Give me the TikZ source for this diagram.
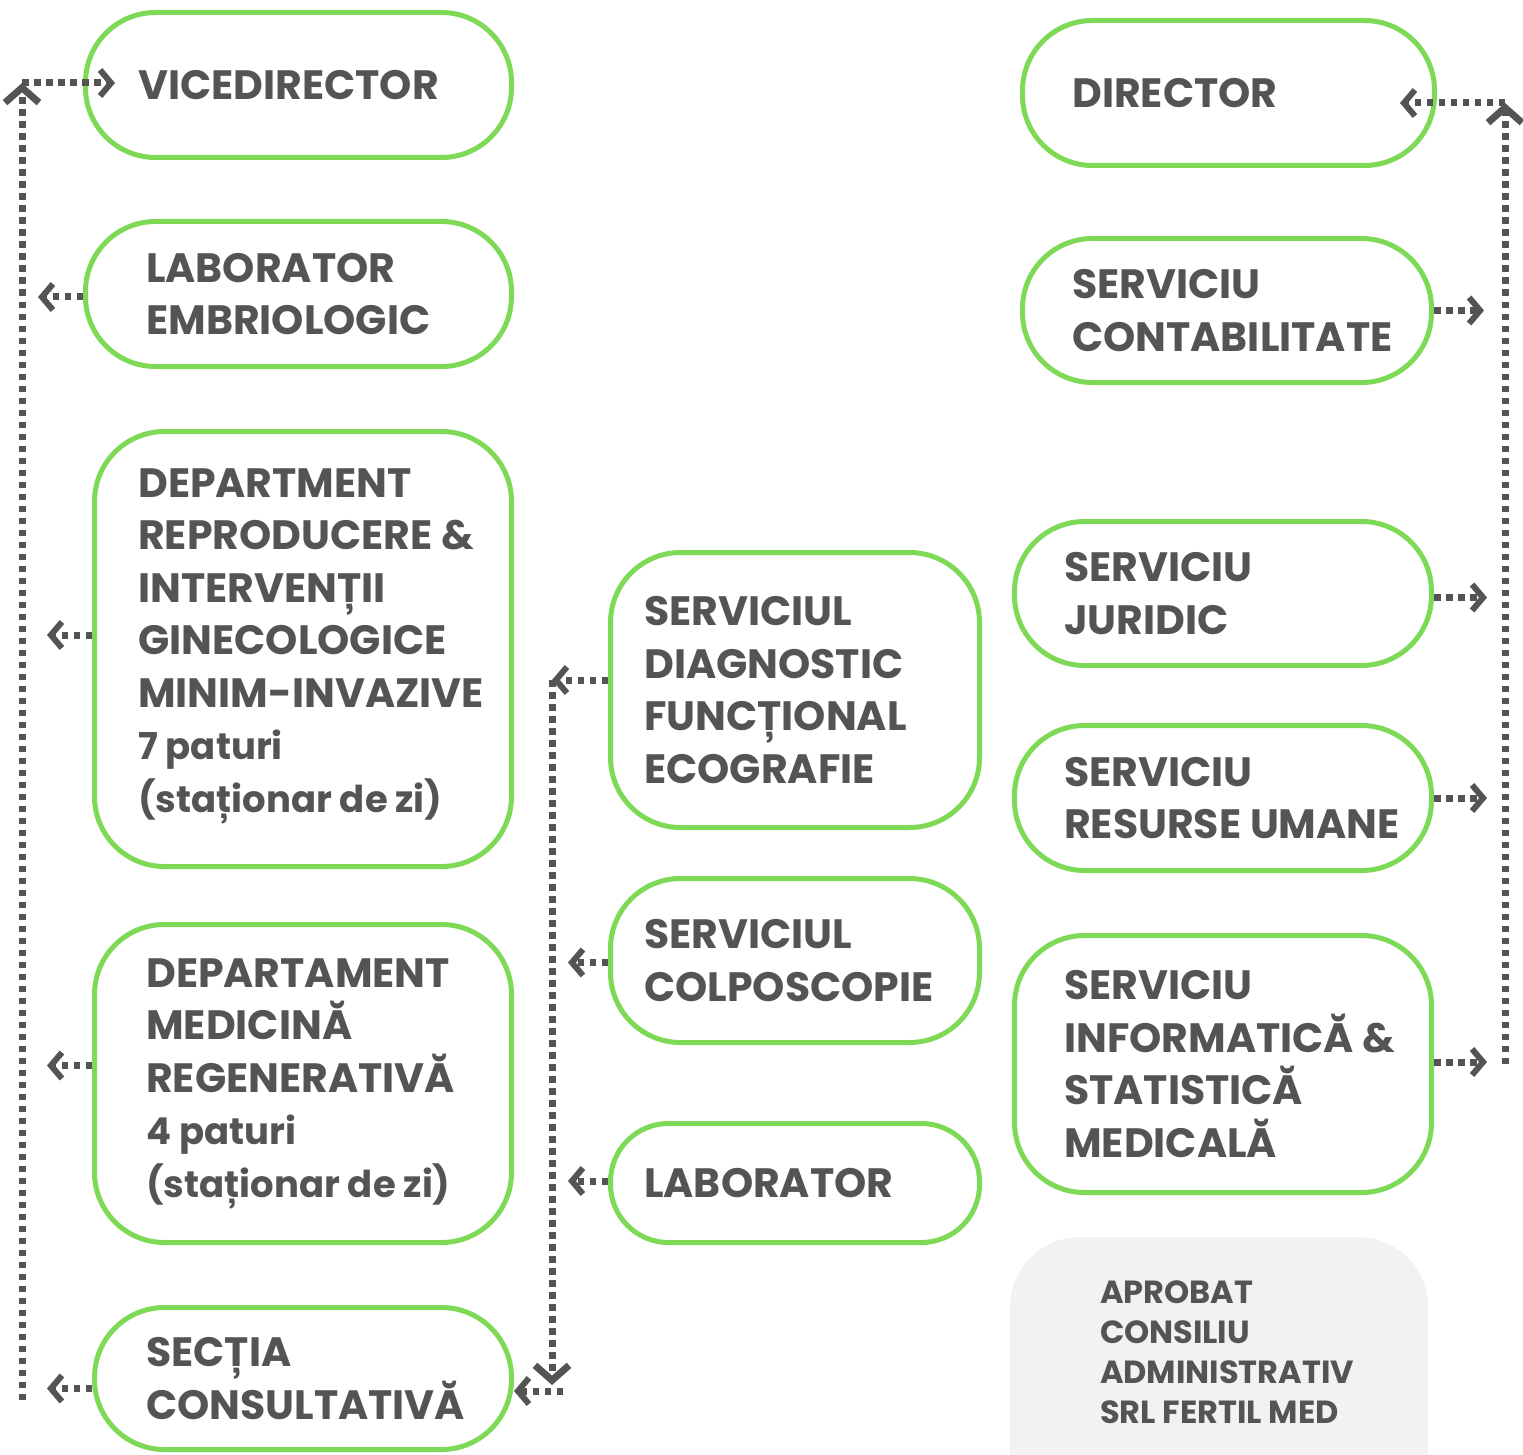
\documentclass[tikz,border=0pt]{standalone}
\usepackage{fontspec}
\setmainfont{Poppins}
\usetikzlibrary{positioning,arrows.meta}
\definecolor{leaf}{HTML}{7ED957}
\definecolor{ink}{HTML}{545454}
\definecolor{paper}{HTML}{F2F2F2}
\newcommand\beds{\fontsize{37}{52.5}\selectfont}
\tikzset{
  unit/.style={draw=leaf, line width=5pt, rounded corners=70pt, inner sep=0pt},
  txt/.style={text=ink, font=\fontsize{41}{52.5}\selectfont\bfseries, align=left, inner sep=0pt},
  note/.style={text=ink, font=\fontsize{32}{40}\selectfont\bfseries, align=left, inner sep=0pt},
  link/.style={draw=ink, line width=7pt, dash pattern=on 6.5pt off 5.5pt,
    -{Straight Barb[length=11pt,width=26pt,line width=6pt]}},
  spine/.style={draw=ink, line width=7pt, dash pattern=on 6.5pt off 5.5pt,
    -{Straight Barb[length=15pt,width=34pt,line width=7pt]}}
}

\begin{document}
\begin{tikzpicture}[x=1pt,y=-1pt]
\useasboundingbox (0,0) rectangle (1523,1455);
% left column
\node[unit, minimum width=426pt, minimum height=145pt] (vice) at (298.5,85) {};
\node[txt, right=55pt of vice.west] (viceT) {VICEDIRECTOR};
\node[unit, minimum width=426pt, minimum height=145pt] (emb) at (298.5,294) {};
\node[txt, right=63pt of emb.west] (embT) {LABORATOR\\EMBRIOLOGIC};
\node[unit, minimum width=417pt, minimum height=435pt] (repro) at (303,649) {};
\node[txt, right=46pt of repro.west, yshift=3pt] (reproT) {DEPARTMENT\\REPRODUCERE \&\\INTERVENȚII\\GINECOLOGICE\\MINIM-INVAZIVE\\{\beds 7 paturi}\\{\beds (staționar de zi)}};
\node[unit, minimum width=417pt, minimum height=318pt] (regen) at (303,1083.5) {};
\node[txt, right=54pt of regen.west] (regenT) {DEPARTAMENT\\MEDICINĂ\\REGENERATIVĂ\\{\beds 4 paturi}\\{\beds (staționar de zi)}};
\node[unit, minimum width=417pt, minimum height=142pt] (consult) at (303,1378.5) {};
\node[txt, right=54pt of consult.west] (consultT) {SECȚIA\\CONSULTATIVĂ};
% middle column
\node[unit, minimum width=369pt, minimum height=275pt] (diag) at (795,690) {};
\node[txt, right=36pt of diag.west] (diagT) {SERVICIUL\\DIAGNOSTIC\\FUNCȚIONAL\\ECOGRAFIE};
\node[unit, minimum width=369pt, minimum height=164pt] (colpo) at (795,960.5) {};
\node[txt, right=36pt of colpo.west] (colpoT) {SERVICIUL\\COLPOSCOPIE};
\node[unit, rounded corners=58pt, minimum width=369pt, minimum height=119pt] (lab) at (795,1183) {};
\node[txt, right=36pt of lab.west] (labT) {LABORATOR};
% right column
\node[unit, minimum width=412pt, minimum height=145pt] (dir) at (1228.5,93) {};
\node[txt, right=52pt of dir.west] (dirT) {DIRECTOR};
\node[unit, minimum width=409pt, minimum height=144pt] (contab) at (1227,310.5) {};
\node[txt, right=52pt of contab.west] (contabT) {SERVICIU\\CONTABILITATE};
\node[unit, minimum width=417pt, minimum height=144pt] (jur) at (1223,593.5) {};
\node[txt, right=52pt of jur.west] (jurT) {SERVICIU\\JURIDIC};
\node[unit, minimum width=417pt, minimum height=145pt] (hr) at (1223,798) {};
\node[txt, right=52pt of hr.west] (hrT) {SERVICIU\\RESURSE UMANE};
\node[unit, minimum width=417pt, minimum height=257pt] (info) at (1223,1064) {};
\node[txt, right=52pt of info.west] (infoT) {SERVICIU\\INFORMATICĂ \&\\STATISTICĂ\\MEDICALĂ};
\node[fill=paper, rounded corners=70pt, minimum width=418pt, minimum height=290pt, inner sep=0pt] (aprobat) at (1219,1382) {};
\node[note, below right=44pt and 90pt of aprobat.north west] (aprobatT) {APROBAT\\CONSILIU\\ADMINISTRATIV\\SRL FERTIL MED};
% dotted links
\coordinate (lbot) at (22,1400);
\coordinate (ltop) at (22,83);
\coordinate (vin) at (115,83);
\draw[spine] (lbot) -- (ltop);
\draw[link] (ltop) -- (vin);
\draw[link] ([yshift=-3pt]emb.west) -- ++(-45,0);
\draw[link] ([yshift=14pt]repro.west) -- ++(-45,0);
\draw[link] ([yshift=18pt]regen.west) -- ++(-45,0);
\draw[link] ([yshift=-10pt]consult.west) -- ++(-45,0);
\coordinate (mtop) at (552,680);
\coordinate (mbot) at (552,1385);
\coordinate (mfoot) at (563,1391);
\draw[link] (diag.west |- mtop) -- (mtop);
\draw[spine] (mtop) -- (mbot);
\draw[link] ([yshift=-2pt]colpo.west) -- ++(-40,0);
\draw[link] ([yshift=2pt]lab.west) -- ++(-40,0);
\draw[link] (mfoot) -- (mfoot -| consult.east);
\coordinate (rtop) at (1505,103);
\coordinate (rbot) at (1505,1064);
\coordinate (din) at (1400,103);
\draw[spine] (rbot) -- (rtop);
\draw[link] (rtop) -- (din);
\draw[link] (contab.east) -- ++(50,0);
\draw[link] ([yshift=-4pt]jur.east) -- ++(53,0);
\draw[link] (hr.east) -- ++(53,0);
\draw[link] ([yshift=2pt]info.east) -- ++(53,0);
\end{tikzpicture}
\end{document}
